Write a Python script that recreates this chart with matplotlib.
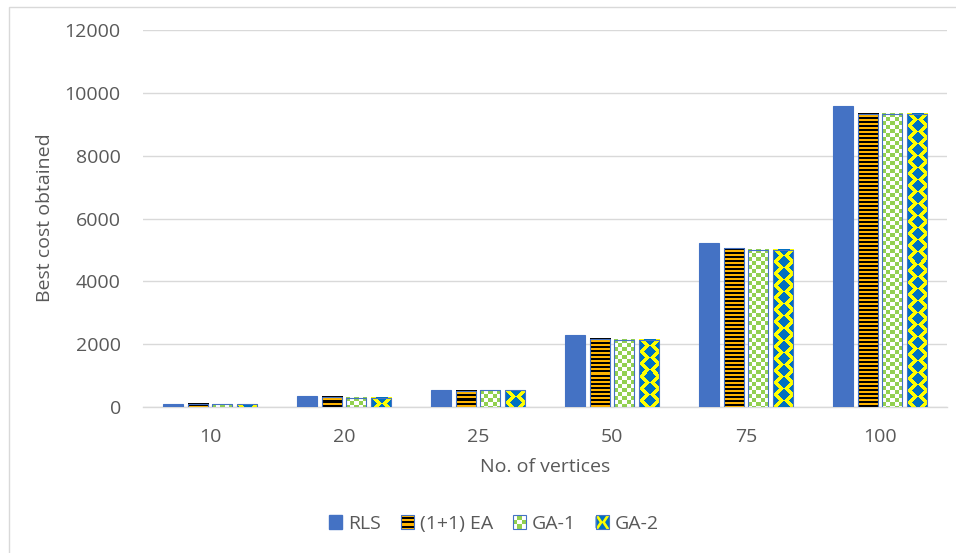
import numpy as np
import matplotlib.pyplot as plt
from matplotlib.patches import Rectangle, Polygon
from matplotlib.legend_handler import HandlerBase

plt.rcParams["font.family"] = "Open Sans"
plt.rcParams["font.size"] = 14

# best cost per graph size
vertices = ["10", "20", "25", "50", "75", "100"]
rls = [105, 360, 565, 2300, 5220, 9580]
ea = [100, 330, 520, 2175, 5050, 9330]
ga1 = [95, 310, 540, 2140, 5000, 9320]
ga2 = [95, 310, 540, 2140, 5000, 9320]

TEXT = "#595959"
GRID = "#D9D9D9"
BLUE = "#4472C4"
ORANGE = "#FFB400"
GREEN = "#92D050"
DBLUE = "#0070C0"
YELLOW = "#FFFF00"


def to_rgb(c):
    c = c.lstrip("#")
    return np.array([int(c[i:i + 2], 16) for i in (0, 2, 4)], dtype=np.uint8)


# pixel fills for the patterned bars, r = row from top, c = col from left
def stripes(r, c):
    return np.where((r % 4) < 2, 0, 1)


def checker(r, c):
    return np.where(((r // 4) + (c // 4)) % 2 == 0, 0, 1)


def diamonds(r, c):
    def fold(v, p):
        v = np.mod(v, p)
        return np.minimum(v, p - v)
    d1 = fold(c - 10, 20) / 5.0 + fold(r, 12) / 5.0
    d2 = fold(c, 20) / 5.0 + fold(r - 6, 12) / 5.0
    return np.where((d1 <= 1) | (d2 <= 1), 0, 1)


patterns = {
    "(1+1) EA": (stripes, ["#000000", ORANGE]),
    "GA-1": (checker, [GREEN, "#FFFFFF"]),
    "GA-2": (diamonds, [DBLUE, YELLOW]),
}

fig = plt.figure(figsize=(9.56, 5.53), dpi=100)
ax = fig.add_axes([143 / 956, 1 - 407.3 / 553, 804 / 956, 377.5 / 553])

x = np.arange(len(vertices))
width = 0.15
step = 0.182
ax.set_xlim(-0.5, len(vertices) - 0.5)
ax.set_ylim(0, 12000)

series = [("RLS", rls), ("(1+1) EA", ea), ("GA-1", ga1), ("GA-2", ga2)]
for i, (name, vals) in enumerate(series):
    pos = x + (i - 1.5) * step
    if name == "RLS":
        ax.bar(pos, vals, width, color=BLUE, edgecolor=BLUE, lw=0.8, zorder=3)
        continue
    bars = ax.bar(pos, vals, width, facecolor="none", edgecolor=BLUE,
                  lw=0.8, zorder=4)
    func, cols = patterns[name]
    palette = np.array([to_rgb(c) for c in cols])
    for b in bars:
        x0, y0 = b.get_x(), b.get_y()
        x1, y1 = x0 + b.get_width(), y0 + b.get_height()
        (px0, py0), (px1, py1) = ax.transData.transform([(x0, y0), (x1, y1)])
        w = max(int(round(px1 - px0)), 1)
        h = max(int(round(py1 - py0)), 1)
        r, c = np.mgrid[0:h, 0:w]
        img = palette[func(r, c)]
        ax.imshow(img, extent=(x0, x1, y0, y1), origin="upper", aspect="auto",
                  interpolation="nearest", zorder=3)

ax.set_xlim(-0.5, len(vertices) - 0.5)
ax.set_ylim(0, 12000)
ax.set_yticks(np.arange(0, 12001, 2000))
ax.set_xticks(x)
ax.set_xticklabels(vertices)
ax.grid(axis="y", color=GRID, lw=1)
ax.set_axisbelow(True)
for s in ["top", "right", "left"]:
    ax.spines[s].set_visible(False)
ax.spines["bottom"].set_color(GRID)
ax.spines["bottom"].set_linewidth(1)
ax.tick_params(length=0, colors=TEXT, labelsize=14)
ax.tick_params(axis="y", pad=16)
ax.tick_params(axis="x", pad=15)

fig.text(45 / 956, 1 - 218 / 553, "Best cost obtained", rotation=90,
         ha="center", va="center", color=TEXT, fontsize=14)
fig.text(545 / 956, 1 - 467 / 553, "No. of vertices", ha="center",
         va="center", color=TEXT, fontsize=14)


class PatternHandler(HandlerBase):
    def __init__(self, name):
        super().__init__()
        self.name = name

    def create_artists(self, legend, orig_handle, xdescent, ydescent,
                       width, height, fontsize, trans):
        x0, y0 = -xdescent, -ydescent
        arts = []
        if self.name == "(1+1) EA":
            arts.append(Rectangle((x0, y0), width, height, facecolor=ORANGE,
                                  edgecolor="none"))
            for k in range(3):
                arts.append(Rectangle((x0, y0 + height * (2 * k + 0.5) / 6),
                                      width, height / 6, facecolor="black",
                                      edgecolor="none"))
        elif self.name == "GA-1":
            arts.append(Rectangle((x0, y0), width, height, facecolor="white",
                                  edgecolor="none"))
            for i in range(3):
                for j in range(3):
                    if (i + j) % 2 == 1:
                        arts.append(Rectangle((x0 + i * width / 3, y0 + j * height / 3),
                                              width / 3, height / 3,
                                              facecolor=GREEN, edgecolor="none"))
        else:
            arts.append(Rectangle((x0, y0), width, height, facecolor=YELLOW,
                                  edgecolor="none"))
            hw, hh = 0.3 * width, 0.45 * height
            xm, ym = x0 + width / 2, y0 + height / 2
            tris = [
                [(xm - hw, y0 + height), (xm + hw, y0 + height), (xm, y0 + height - hh)],
                [(xm - hw, y0), (xm + hw, y0), (xm, y0 + hh)],
                [(x0, ym - hh), (x0, ym + hh), (x0 + hw, ym)],
                [(x0 + width, ym - hh), (x0 + width, ym + hh), (x0 + width - hw, ym)],
            ]
            for t in tris:
                arts.append(Polygon(t, closed=True, facecolor=DBLUE,
                                    edgecolor="none"))
        arts.append(Rectangle((x0, y0), width, height, facecolor="none",
                              edgecolor=BLUE, lw=0.8))
        for a in arts:
            a.set_transform(trans)
        return arts


handles = [Rectangle((0, 0), 1, 1, facecolor=BLUE, edgecolor=BLUE)]
labels = ["RLS"]
hmap = {}
for name in ["(1+1) EA", "GA-1", "GA-2"]:
    h = Rectangle((0, 0), 1, 1)
    handles.append(h)
    labels.append(name)
    hmap[h] = PatternHandler(name)

leg = fig.legend(handles, labels, handler_map=hmap, loc="center",
                 bbox_to_anchor=(494 / 956, 1 - 524 / 553), ncol=4,
                 frameon=False, handlelength=0.7, handleheight=0.7,
                 handletextpad=0.3, columnspacing=1.0, fontsize=14)
for t in leg.get_texts():
    t.set_color(TEXT)

# chart frame
fig.patches.append(Rectangle((8.5 / 956, -0.1), 2, 1 - 7 / 553 + 0.1,
                             transform=fig.transFigure, fill=False,
                             edgecolor=GRID, lw=1))

fig.savefig("out.png", dpi=100)
